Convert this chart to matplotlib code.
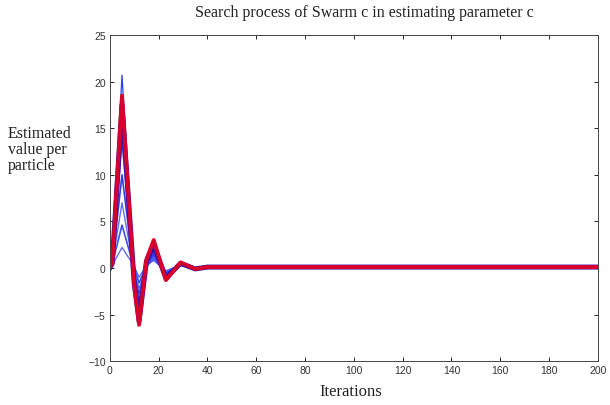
import matplotlib
matplotlib.use("Agg")
import matplotlib.pyplot as plt

# Key iterations at which each particle's estimate is recorded
iters = [0, 1, 5, 10, 12, 15, 18, 23, 29, 35, 40, 200]

# Estimated value of parameter c per particle (blue: swarm members, red: best)
particles = [
    [0, 0.3, 2.2, 0.2, -1.0, 0.3, 0.8, -0.3, 0.3, -0.1, 0.1, 0.1],
    [0, 0.4, 4.6, 0.0, -1.6, 0.2, 1.0, -0.4, 0.3, -0.1, 0.1, 0.1],
    [0, 0.4, 7.0, -0.3, -2.2, 0.1, 1.2, -0.5, 0.4, -0.1, 0.1, 0.1],
    [0, 0.5, 10.0, -0.6, -2.8, 0.2, 1.4, -0.6, 0.4, -0.1, 0.1, 0.1],
    [0, 0.5, 13.5, -0.9, -3.4, 0.3, 1.6, -0.7, 0.4, -0.1, 0.1, 0.1],
    [0, 0.5, 16.0, -1.1, -4.0, 0.4, 1.8, -0.8, 0.5, -0.1, 0.1, 0.1],
    [0, 0.5, 20.7, -1.0, -4.6, 0.5, 1.5, -0.6, 0.4, -0.1, 0.1, 0.1],
    [0, 0.5, 17.5, -1.6, -5.7, 0.7, 2.5, -1.1, 0.5, -0.1, 0.1, 0.1],
]
best = [0, 0.5, 18.5, -1.8, -6.1, 0.9, 3.0, -1.3, 0.6, -0.1, 0.1, 0.1]

blue_colors = ["#5a6cf0", "#3f4fe8", "#5b6ff5", "#3040e0", "#4a5cf0",
               "#2a36d8", "#2b3cff", "#3a10a0"]
blue_widths = [1.0, 1.2, 1.0, 1.2, 1.0, 1.4, 0.9, 3.6]

xticks = list(range(0, 201, 20))
yticks = list(range(-10, 26, 5))

fig = plt.figure(figsize=(6.1, 4.06), dpi=100)
ax = fig.add_axes([0.18, 0.108, 0.80, 0.803])

for vals, c, w in zip(particles, blue_colors, blue_widths):
    ax.plot(iters, vals, color=c, linewidth=w)
ax.plot(iters, best, color="#d8002c", linewidth=2.8)

ax.set_xlim(0, 200)
ax.set_ylim(-10, 25)
ax.set_xticks(xticks)
ax.set_yticks(yticks)
ax.tick_params(direction="in", top=True, right=True, length=3, width=0.6,
               labelsize=7.5, labelcolor="#333333", pad=3)
for lab in ax.get_xticklabels() + ax.get_yticklabels():
    lab.set_family("Liberation Sans")
for s in ax.spines.values():
    s.set_linewidth(0.7)
    s.set_color("#444444")

fig.text(0.598, 0.968, "Search process of Swarm c in estimating parameter c",
         ha="center", va="center", family="Liberation Serif", fontsize=11.5,
         color="#222222")
fig.text(0.575, 0.035, "Iterations", ha="center", va="center",
         family="Liberation Serif", fontsize=12, color="#222222")
fig.text(0.013, 0.63, "Estimated\nvalue per\nparticle", ha="left", va="center",
         family="Liberation Serif", fontsize=11.5, color="#222222",
         linespacing=1.0)

fig.savefig("out.png", dpi=100)
